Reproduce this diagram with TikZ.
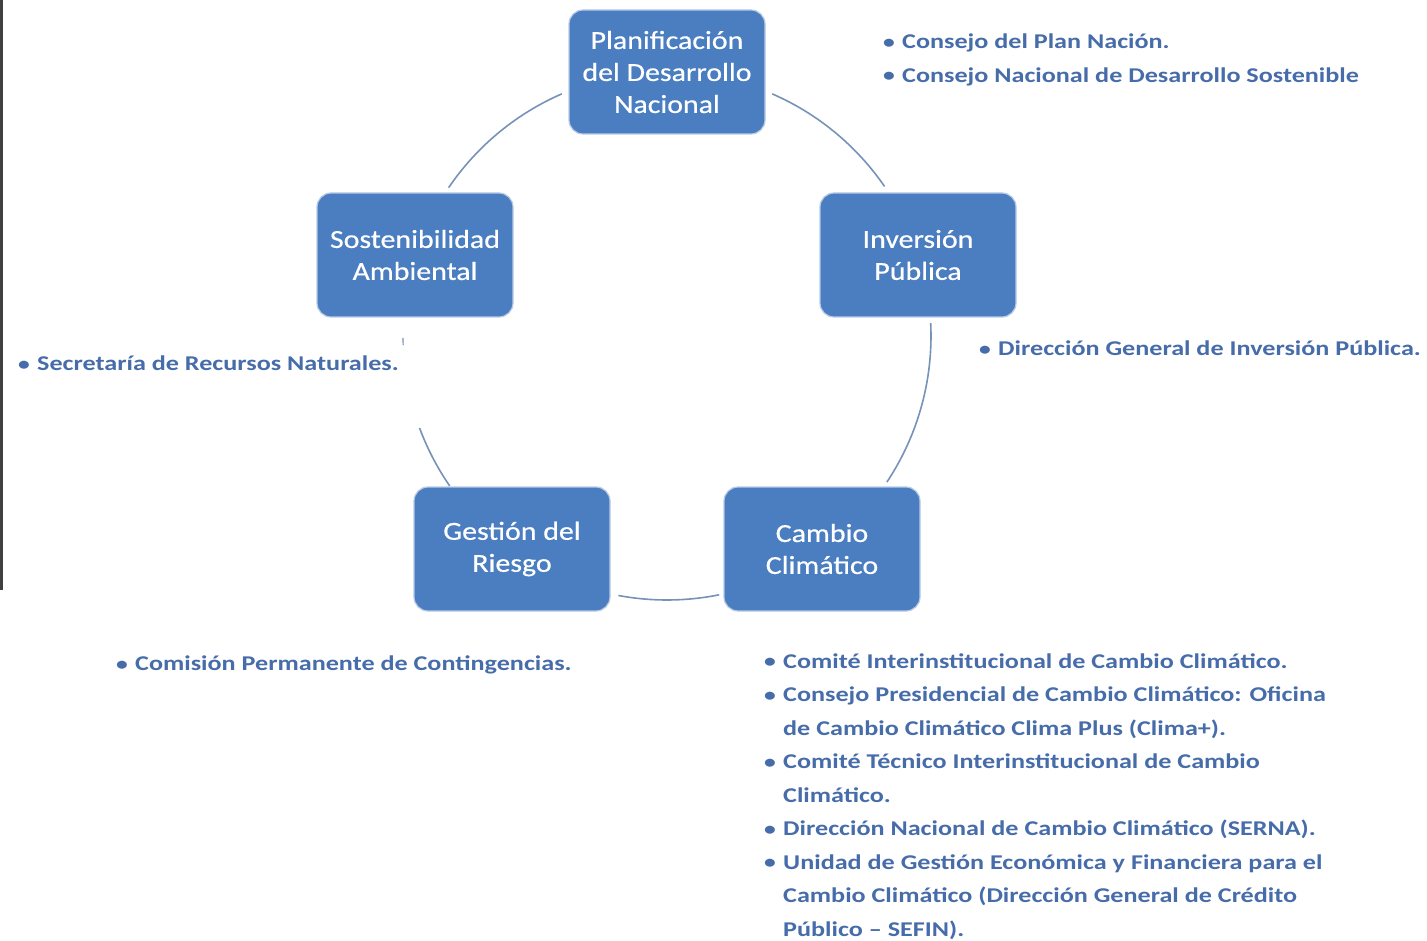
\documentclass[tikz,border=0pt]{standalone}
\usepackage{fontspec}
\setmainfont{Carlito}
\newfontfamily\listfont[FakeStretch=1.245,Ligatures=TeX]{Carlito}
\newfontfamily\boxfont[FakeStretch=1.15,FakeBold=0.5]{Carlito}
\definecolor{boxblue}{RGB}{74,126,193}
\definecolor{txtblue}{RGB}{70,108,170}
\definecolor{arcblue}{RGB}{118,146,184}
\newcommand\bi{\makebox[16pt][l]{\hspace{-3pt}\raisebox{0.3pt}{\scalebox{0.9}{\textbullet}}}}
\newcommand\ci{\hspace*{16pt}}
\begin{document}
\begin{tikzpicture}[x=1pt,y=-1pt,
  stage/.style={rectangle, rounded corners=14pt, fill=boxblue, draw=boxblue!40!white, line width=1.2pt,
    minimum width=196pt, minimum height=124pt, text=white, align=center,
    font=\boxfont\fontsize{26}{32}\selectfont},
  blist/.style={anchor=north west, inner sep=0pt, align=left, text=txtblue,
    font=\listfont\fontsize{21}{33.5}\selectfont\bfseries},
  ring/.style={draw=arcblue, line width=1.6pt}]
\useasboundingbox (0,0) rectangle (1427,941);
\fill[black!75] (0,0) rectangle (2.5,590);

\coordinate (C) at (667,336);

\node[stage] (plan) at (667,72) {Planificación\\del Desarrollo\\Nacional};
\node[stage] (inv)  at (918,255) {Inversión\\Pública};
\node[stage] (cam)  at (822,549) {Cambio\\Climático};
\node[stage] (ges)  at (512,549) {Gestión del\\Riesgo};
\node[stage] (sos)  at (415,255) {Sostenibilidad\\Ambiental};

% arcs of the ring (y axis points down, so angles are mirrored)
\draw[ring] ([shift={(-66.5:264)}]C) arc[start angle=-66.5, end angle=-34.5, radius=264];
\draw[ring] ([shift={(-2.8:264)}]C) arc[start angle=-2.8, end angle=33.6, radius=264];
\draw[ring] ([shift={(78.6:264)}]C) arc[start angle=78.6, end angle=100.6, radius=264];
\draw[ring] ([shift={(145.4:264)}]C) arc[start angle=145.4, end angle=159.6, radius=264];
\draw[ring, line width=1.2pt] ([shift={(178:264)}]C) arc[start angle=178, end angle=179.6, radius=264];
\draw[ring] ([shift={(-145.8:264)}]C) arc[start angle=-145.8, end angle=-113.5, radius=264];

\node[blist] (tplan) at (886,25) {\strut\bi Consejo del Plan Nación.\\\bi Consejo Nacional de Desarrollo Sostenible};
\node[blist] (tinv) at (982,332) {\strut\bi Dirección General de Inversión Pública.};
\node[blist] (tsos) at (21,347) {\strut\bi Secretaría de Recursos Naturales.};
\node[blist] (tges) at (119,647) {\strut\bi Comisión Permanente de Contingencias.};
\node[blist] (tcam) at (767,644.5) {\strut\bi Comité Interinstitucional de Cambio Climático.\\
\bi Consejo Presidencial de Cambio Climático: Oficina\\
\ci de Cambio Climático Clima Plus (Clima+).\\
\bi Comité Técnico Interinstitucional de Cambio\\
\ci Climático.\\
\bi Dirección Nacional de Cambio Climático (SERNA).\\
\bi Unidad de Gestión Económica y Financiera para el\\
\ci Cambio Climático (Dirección General de Crédito\\
\ci Público – SEFIN).};
\end{tikzpicture}
\end{document}
